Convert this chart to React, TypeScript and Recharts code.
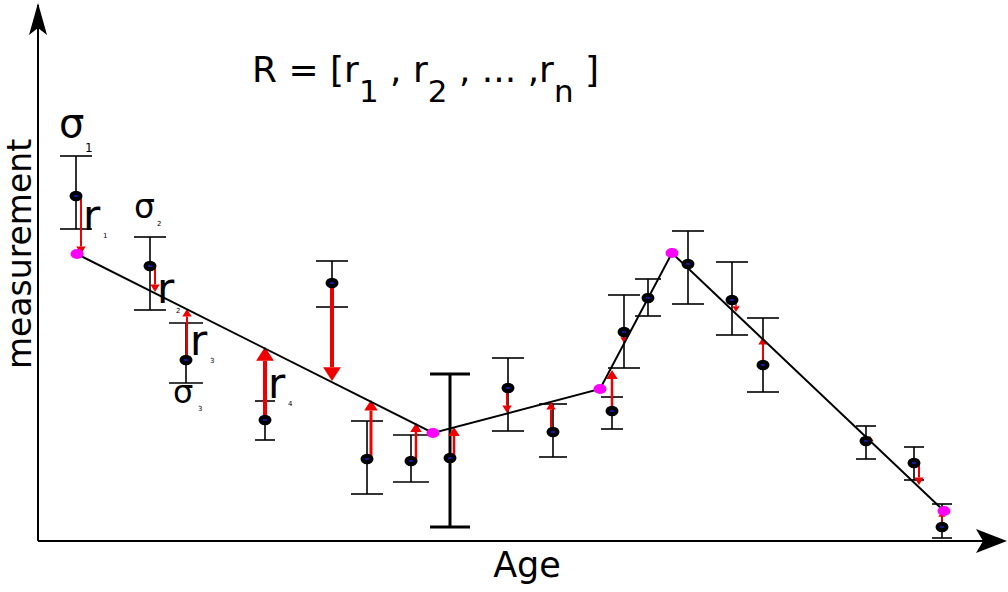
import React from "react";
import {
  ComposedChart, Line, Scatter, ErrorBar, XAxis, YAxis, ReferenceLine, ReferenceDot, Label,
} from "recharts";

// measurements (age, value) with asymmetric uncertainty
const AGE = [38, 112, 148, 227, 294, 329, 373, 412, 470, 515, 574, 586, 610, 650, 694, 725, 828, 876, 904];
const MEASUREMENT = [345, 275, 181, 121, 258, 82, 80, 83, 153, 109, 130, 209, 243, 277, 241, 176, 100, 78, 14];
const ERR_LOW = [33, 44, 23, 20, 24, 35, 21, 69, 43, 25, 18, 36, 18, 40, 35, 27, 18, 17, 11];
const ERR_HIGH = [40, 29, 37, 19, 22, 38, 26, 84, 30, 28, 14, 37, 19, 33, 38, 47, 15, 16, 23];
// model value at each measurement age (arrow tips)
const FIT_AT_POINT = [287, 249, 232, 194, 160, 141, 118, 114, 128, 139, 171, 198, 241, 274, 229, 204, 105, 56, 30];

// piecewise-linear model knots
const KNOT_AGE = [39, 395, 562, 634, 906];
const KNOT_VALUE = [287, 108, 152, 288, 30];

// styles per measurement
const CAP = [16, 16, 17, 10, 16, 16, 18, 20, 16, 14, 11, 16, 13, 16, 16, 16, 10, 10, 10];
const ARROW_W = [2, 2, 2, 4, 4, 3, 2.5, 2.5, 2, 2, 2.5, 1.5, 1.2, 1.2, 1.5, 2, 1.5, 2, 1.5];
const ARROW_DX = [5, 5, 1, 0, 0, 4, 5, 4, -1, -2, 0, 0, 0, 0, 4, 0, 4, 5, 0];

const FONT = "'DejaVu Sans', sans-serif";

type Note = { text: string; age: number; value: number; size: number };
const NOTES: Note[] = [
  { text: "σ", age: 21, value: 404, size: 40 },
  { text: "1", age: 47, value: 389, size: 12 },
  { text: "r", age: 45, value: 311, size: 42 },
  { text: "1", age: 65, value: 303, size: 7 },
  { text: "σ", age: 96, value: 323, size: 33 },
  { text: "2", age: 119, value: 315, size: 7 },
  { text: "r", age: 119, value: 238, size: 42 },
  { text: "2", age: 138, value: 228, size: 7 },
  { text: "r", age: 152, value: 186, size: 42 },
  { text: "3", age: 172, value: 178, size: 7 },
  { text: "σ", age: 135, value: 138, size: 32 },
  { text: "3", age: 160, value: 130, size: 7 },
  { text: "r", age: 230, value: 143, size: 42 },
  { text: "4", age: 250, value: 135, size: 7 },
];

const points = AGE.map((a, i) => ({
  age: a,
  value: MEASUREMENT[i],
  err: [ERR_LOW[i], ERR_HIGH[i]],
  cap: CAP[i],
}));
const capGroups = Array.from(new Set(CAP)).map((c) => points.filter((p) => p.cap === c));
const knots = KNOT_AGE.map((a, i) => ({ age: a, value: KNOT_VALUE[i] }));

const BlackDot = (p: any) => (
  <g>
    <ellipse cx={p.cx} cy={p.cy} rx={6.5} ry={5.2} fill="#000" />
    <ellipse cx={p.cx} cy={p.cy} rx={2.6} ry={1.1} fill="#1a1aa8" />
  </g>
);

const MagentaDot = (p: any) => (
  <ellipse key={`k${p.index}`} cx={p.cx} cy={p.cy} rx={6.5} ry={5} fill="#ff00ff" />
);

const arrowShape = (w: number) => (p: any) => {
  const { x1, y1, x2, y2 } = p;
  const dir = y2 > y1 ? 1 : -1;
  const L = Math.min(3.2 * w + 1, Math.abs(y2 - y1));
  const H = 2.1 * w + 0.5;
  const yb = y2 - dir * L;
  return (
    <g>
      <line x1={x1} y1={y1} x2={x2} y2={yb} stroke="#ee0000" strokeWidth={w} />
      <polygon points={`${x2},${y2} ${x2 - H},${yb} ${x2 + H},${yb}`} fill="#ee0000" />
    </g>
  );
};

const UpHead = (p: any) => (
  <polygon
    points={`${p.cx},${p.cy - 2} ${p.cx + 9},${p.cy + 30} ${p.cx},${p.cy + 23} ${p.cx - 9},${p.cy + 30}`}
    fill="#000"
  />
);
const RightHead = (p: any) => (
  <polygon
    points={`${p.cx + 7},${p.cy} ${p.cx - 24},${p.cy - 12} ${p.cx - 17},${p.cy} ${p.cx - 24},${p.cy + 12}`}
    fill="#000"
  />
);

const noteShape = (n: Note) => (p: any) => (
  <text x={p.cx} y={p.cy} fontSize={n.size} fontFamily={FONT} fill="#000">{n.text}</text>
);

const Title = (p: any) => (
  <text x={p.cx} y={p.cy} fontSize={36} fontFamily={FONT} fill="#000">
    <tspan>R = [r</tspan>
    <tspan fontSize={31} dy={20}>1</tspan>
    <tspan dy={-20}> , r</tspan>
    <tspan fontSize={31} dy={20}>2</tspan>
    <tspan dy={-20}> , ... ,r</tspan>
    <tspan fontSize={31} dy={20}>n</tspan>
    <tspan dy={-20}> ]</tspan>
  </text>
);

const AgeLabel = ({ viewBox }: any) => (
  <text x={viewBox.x + viewBox.width / 2 + 8} y={viewBox.y + 36} textAnchor="middle"
    fontSize={35} fontFamily={FONT} fill="#000">Age</text>
);
const MeasLabel = ({ viewBox }: any) => {
  const x = viewBox.x + 31;
  const y = viewBox.y + viewBox.height / 2 - 19;
  return (
    <text x={x} y={y} transform={`rotate(-90 ${x} ${y})`} textAnchor="middle"
      fontSize={33} fontFamily={FONT} fill="#000">measurement</text>
  );
};

export default function App() {
  return (
    <div style={{ position: "absolute", left: 0, top: 0, background: "#fff" }}>
      <ComposedChart width={1008} height={592} margin={{ top: 5, right: 8, bottom: 0, left: 0 }}>
        <XAxis type="number" dataKey="age" domain={[0, 962]} allowDataOverflow height={51}
          tick={false} tickLine={false} axisLine={{ stroke: "#000", strokeWidth: 2 }}>
          <Label content={AgeLabel} />
        </XAxis>
        <YAxis type="number" dataKey="value" domain={[0, 536]} allowDataOverflow width={38}
          tick={false} tickLine={false} axisLine={{ stroke: "#000", strokeWidth: 2 }}>
          <Label content={MeasLabel} />
        </YAxis>

        {capGroups.map((g, gi) => (
          <Scatter key={`s${gi}`} data={g} shape={() => <g />} isAnimationActive={false}>
            <ErrorBar dataKey="err" direction="y" width={g[0].cap}
              stroke="#000" strokeWidth={g[0].cap === 20 ? 3 : 1.6} />
          </Scatter>
        ))}

        {AGE.map((a, i) => (
          <ReferenceLine key={`r${i}`}
            segment={[{ x: a + ARROW_DX[i], y: MEASUREMENT[i] }, { x: a + ARROW_DX[i], y: FIT_AT_POINT[i] }]}
            shape={arrowShape(ARROW_W[i])} ifOverflow="visible" />
        ))}

        <Line data={knots} dataKey="value" type="linear" stroke="#000" strokeWidth={2}
          dot={MagentaDot} activeDot={false} isAnimationActive={false} />

        <Scatter data={points} shape={BlackDot} isAnimationActive={false} />

        <ReferenceDot x={0} y={536} ifOverflow="visible" shape={UpHead} />
        <ReferenceDot x={962} y={0} ifOverflow="visible" shape={RightHead} />
        <ReferenceDot x={214} y={459} ifOverflow="visible" shape={Title} />
        {NOTES.map((n, i) => (
          <ReferenceDot key={`n${i}`} x={n.age} y={n.value} ifOverflow="visible" shape={noteShape(n)} />
        ))}
      </ComposedChart>
    </div>
  );
}
